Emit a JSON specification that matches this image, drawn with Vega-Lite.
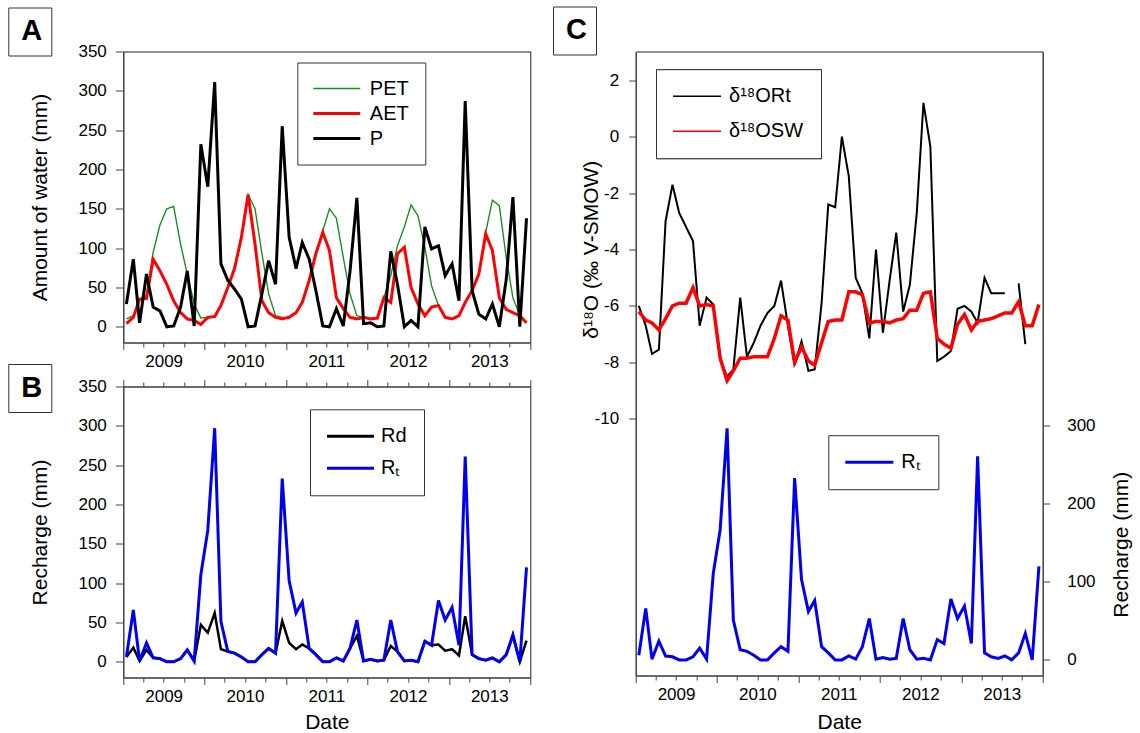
{
  "$schema": "https://vega.github.io/schema/vega-lite/v6.json",
  "autosize": {"type": "none"},
  "padding": {"left": 123.3, "top": 51.5, "right": 1016.7, "bottom": 681.5},
  "background": "white",
  "config": {
    "font": "Liberation Sans",
    "view": {"stroke": "#222", "strokeWidth": 1},
    "axis": {"grid": false, "labelFont": "Liberation Sans", "labelFontSize": 17, "labelColor": "#000", "titleFont": "Liberation Sans", "titleFontSize": 21, "titleFontWeight": "normal", "titleColor": "#000", "domainColor": "#444", "tickColor": "#444", "domainWidth": 1, "tickWidth": 1},
    "legend": {"labelFont": "Liberation Sans", "labelColor": "#000"}
  },
  "datasets": {
    "main": [
      {"date": "2009-01-15", "PET": 10, "AET": 4, "P": 29, "Rd": 6, "Rt": 6, "O_Rt": -6.0, "O_SW": -6.2},
      {"date": "2009-02-15", "PET": 14, "AET": 12, "P": 86, "Rd": 18, "Rt": 66, "O_Rt": -6.7, "O_SW": -6.5},
      {"date": "2009-03-15", "PET": 35, "AET": 35, "P": 5, "Rd": 1, "Rt": 1, "O_Rt": -7.7, "O_SW": -6.6},
      {"date": "2009-04-15", "PET": 40, "AET": 36, "P": 67, "Rd": 15, "Rt": 24, "O_Rt": -7.55, "O_SW": -6.85},
      {"date": "2009-05-15", "PET": 95, "AET": 86, "P": 25, "Rd": 5, "Rt": 5, "O_Rt": -3.0, "O_SW": -6.45},
      {"date": "2009-06-15", "PET": 130, "AET": 71, "P": 20, "Rd": 4, "Rt": 4, "O_Rt": -1.7, "O_SW": -6.0},
      {"date": "2009-07-15", "PET": 150, "AET": 54, "P": 0, "Rd": 0, "Rt": 0, "O_Rt": -2.7, "O_SW": -5.9},
      {"date": "2009-08-15", "PET": 153, "AET": 33, "P": 1, "Rd": 0, "Rt": 0, "O_Rt": -3.2, "O_SW": -5.9},
      {"date": "2009-09-15", "PET": 105, "AET": 18, "P": 25, "Rd": 4, "Rt": 4, "O_Rt": -3.7, "O_SW": -5.35},
      {"date": "2009-10-15", "PET": 67, "AET": 10, "P": 71, "Rd": 15, "Rt": 15, "O_Rt": -6.7, "O_SW": -6.0},
      {"date": "2009-11-15", "PET": 29, "AET": 8, "P": 1, "Rd": 1, "Rt": 1, "O_Rt": -5.7, "O_SW": -5.95},
      {"date": "2009-12-15", "PET": 11, "AET": 3, "P": 232, "Rd": 47, "Rt": 111, "O_Rt": -5.95, "O_SW": -6.0},
      {"date": "2010-01-15", "PET": 12, "AET": 12, "P": 178, "Rd": 37, "Rt": 167, "O_Rt": -7.9, "O_SW": -7.85},
      {"date": "2010-02-15", "PET": 13, "AET": 13, "P": 311, "Rd": 62, "Rt": 297, "O_Rt": -8.5, "O_SW": -8.65},
      {"date": "2010-03-15", "PET": 27, "AET": 27, "P": 80, "Rd": 16, "Rt": 51, "O_Rt": -8.25, "O_SW": -8.3},
      {"date": "2010-04-15", "PET": 50, "AET": 50, "P": 59, "Rd": 13, "Rt": 13, "O_Rt": -5.7, "O_SW": -7.85},
      {"date": "2010-05-15", "PET": 74, "AET": 74, "P": 48, "Rd": 11, "Rt": 11, "O_Rt": -7.8, "O_SW": -7.85},
      {"date": "2010-06-15", "PET": 114, "AET": 114, "P": 35, "Rd": 6, "Rt": 6, "O_Rt": -7.3, "O_SW": -7.8},
      {"date": "2010-07-15", "PET": 168, "AET": 168, "P": 0, "Rd": 0, "Rt": 0, "O_Rt": -6.7, "O_SW": -7.8},
      {"date": "2010-08-15", "PET": 150, "AET": 105, "P": 1, "Rd": 0, "Rt": 0, "O_Rt": -6.25, "O_SW": -7.8},
      {"date": "2010-09-15", "PET": 93, "AET": 33, "P": 42, "Rd": 9, "Rt": 9, "O_Rt": -6.0, "O_SW": -7.15},
      {"date": "2010-10-15", "PET": 42, "AET": 18, "P": 84, "Rd": 17, "Rt": 17, "O_Rt": -5.1, "O_SW": -6.35},
      {"date": "2010-11-15", "PET": 14, "AET": 12, "P": 54, "Rd": 11, "Rt": 11, "O_Rt": -6.7, "O_SW": -6.5},
      {"date": "2010-12-15", "PET": 12, "AET": 10, "P": 255, "Rd": 52, "Rt": 233, "O_Rt": -8.1, "O_SW": -8.0},
      {"date": "2011-01-15", "PET": 12, "AET": 12, "P": 114, "Rd": 24, "Rt": 103, "O_Rt": -7.25, "O_SW": -7.45},
      {"date": "2011-02-15", "PET": 18, "AET": 18, "P": 74, "Rd": 16, "Rt": 62, "O_Rt": -8.3, "O_SW": -7.95},
      {"date": "2011-03-15", "PET": 31, "AET": 31, "P": 107, "Rd": 22, "Rt": 76, "O_Rt": -8.25, "O_SW": -8.1},
      {"date": "2011-04-15", "PET": 59, "AET": 59, "P": 86, "Rd": 17, "Rt": 17, "O_Rt": -5.9, "O_SW": -7.3},
      {"date": "2011-05-15", "PET": 93, "AET": 93, "P": 46, "Rd": 9, "Rt": 9, "O_Rt": -2.4, "O_SW": -6.55},
      {"date": "2011-06-15", "PET": 122, "AET": 120, "P": 1, "Rd": 0, "Rt": 0, "O_Rt": -2.5, "O_SW": -6.5},
      {"date": "2011-07-15", "PET": 150, "AET": 97, "P": 0, "Rd": 0, "Rt": 0, "O_Rt": 0.0, "O_SW": -6.5},
      {"date": "2011-08-15", "PET": 138, "AET": 37, "P": 23, "Rd": 5, "Rt": 5, "O_Rt": -1.4, "O_SW": -5.5},
      {"date": "2011-09-15", "PET": 88, "AET": 23, "P": 1, "Rd": 1, "Rt": 1, "O_Rt": -5.0, "O_SW": -5.5},
      {"date": "2011-10-15", "PET": 42, "AET": 12, "P": 70, "Rd": 17, "Rt": 17, "O_Rt": -5.55, "O_SW": -5.6},
      {"date": "2011-11-15", "PET": 14, "AET": 10, "P": 164, "Rd": 33, "Rt": 53, "O_Rt": -7.15, "O_SW": -6.6},
      {"date": "2011-12-15", "PET": 12, "AET": 12, "P": 4, "Rd": 1, "Rt": 1, "O_Rt": -4.0, "O_SW": -6.55},
      {"date": "2012-01-15", "PET": 10, "AET": 10, "P": 5, "Rd": 3, "Rt": 3, "O_Rt": -6.95, "O_SW": -6.55},
      {"date": "2012-02-15", "PET": 11, "AET": 11, "P": 0, "Rd": 1, "Rt": 1, "O_Rt": -5.05, "O_SW": -6.6},
      {"date": "2012-03-15", "PET": 37, "AET": 37, "P": 1, "Rd": 2, "Rt": 2, "O_Rt": -3.4, "O_SW": -6.5},
      {"date": "2012-04-15", "PET": 65, "AET": 31, "P": 96, "Rd": 20, "Rt": 53, "O_Rt": -6.2, "O_SW": -6.45},
      {"date": "2012-05-15", "PET": 103, "AET": 93, "P": 54, "Rd": 13, "Rt": 13, "O_Rt": -5.25, "O_SW": -6.15},
      {"date": "2012-06-15", "PET": 127, "AET": 101, "P": 0, "Rd": 1, "Rt": 1, "O_Rt": -2.7, "O_SW": -6.15},
      {"date": "2012-07-15", "PET": 155, "AET": 50, "P": 8, "Rd": 2, "Rt": 2, "O_Rt": 1.2, "O_SW": -5.55},
      {"date": "2012-08-15", "PET": 141, "AET": 29, "P": 0, "Rd": 0, "Rt": 0, "O_Rt": -0.35, "O_SW": -5.5},
      {"date": "2012-09-15", "PET": 101, "AET": 14, "P": 127, "Rd": 26, "Rt": 26, "O_Rt": -7.95, "O_SW": -7.15},
      {"date": "2012-10-15", "PET": 52, "AET": 25, "P": 99, "Rd": 21, "Rt": 21, "O_Rt": -7.8, "O_SW": -7.35},
      {"date": "2012-11-15", "PET": 27, "AET": 27, "P": 103, "Rd": 22, "Rt": 78, "O_Rt": -7.6, "O_SW": -7.5},
      {"date": "2012-12-15", "PET": 12, "AET": 12, "P": 65, "Rd": 14, "Rt": 53, "O_Rt": -6.1, "O_SW": -6.65},
      {"date": "2013-01-15", "PET": 10, "AET": 10, "P": 80, "Rd": 16, "Rt": 69, "O_Rt": -6.0, "O_SW": -6.3},
      {"date": "2013-02-15", "PET": 14, "AET": 14, "P": 33, "Rd": 8, "Rt": 21, "O_Rt": -6.2, "O_SW": -6.85},
      {"date": "2013-03-15", "PET": 31, "AET": 31, "P": 287, "Rd": 58, "Rt": 261, "O_Rt": -6.6, "O_SW": -6.55},
      {"date": "2013-04-15", "PET": 46, "AET": 46, "P": 46, "Rd": 9, "Rt": 9, "O_Rt": -5.0, "O_SW": -6.5},
      {"date": "2013-05-15", "PET": 67, "AET": 67, "P": 16, "Rd": 4, "Rt": 4, "O_Rt": -5.55, "O_SW": -6.45},
      {"date": "2013-06-15", "PET": 120, "AET": 118, "P": 10, "Rd": 2, "Rt": 2, "O_Rt": -5.55, "O_SW": -6.35},
      {"date": "2013-07-15", "PET": 161, "AET": 97, "P": 29, "Rd": 5, "Rt": 5, "O_Rt": -5.55, "O_SW": -6.25},
      {"date": "2013-08-15", "PET": 154, "AET": 37, "P": 0, "Rd": 0, "Rt": 0, "O_Rt": null, "O_SW": -6.25},
      {"date": "2013-09-15", "PET": 88, "AET": 22, "P": 60, "Rd": 9, "Rt": 9, "O_Rt": -5.2, "O_SW": -5.85},
      {"date": "2013-10-15", "PET": 37, "AET": 18, "P": 165, "Rd": 34, "Rt": 34, "O_Rt": -7.35, "O_SW": -6.7},
      {"date": "2013-11-15", "PET": 14, "AET": 14, "P": 0, "Rd": 0, "Rt": 0, "O_Rt": null, "O_SW": -6.7},
      {"date": "2013-12-15", "PET": 5, "AET": 5, "P": 138, "Rd": 27, "Rt": 120, "O_Rt": null, "O_SW": -5.95}
    ]
  },
  "spacing": 18.4,
  "resolve": {"scale": {"color": "independent", "strokeWidth": "independent", "strokeDash": "independent"}},
  "hconcat": [
    {
      "spacing": 44,
      "bounds": "flush",
      "resolve": {"scale": {"color": "independent", "strokeWidth": "independent", "strokeDash": "independent"}},
      "vconcat": [
        {
          "width": 407,
          "height": 291,
          "data": {"name": "main"},
          "transform": [{"fold": ["PET", "AET", "P"], "as": ["series", "value"]}],
          "mark": {"type": "line", "invalid": "break-paths-filter-domains"},
          "encoding": {
            "x": {"field": "date", "type": "temporal",
              "scale": {"type": "utc", "domain": [{"year": 2009, "month": 1, "date": 1, "utc": true}, {"year": 2014, "month": 1, "date": 1, "utc": true}]},
              "axis": {"title": null, "labelOverlap": false, "labelFlush": false, "labelPadding": 6,
                "labelExpr": "utcmonth(datum.value) == 6 ? utcFormat(datum.value, '%Y') : ''",
                "tickSize": {"condition": {"test": "utcmonth(datum.value) == 0", "value": 7}, "value": 4.5},
                "values": [{"year": 2009, "month": 1, "date": 1, "utc": true}, {"year": 2009, "month": 4, "date": 1, "utc": true}, {"year": 2009, "month": 7, "date": 1, "utc": true}, {"year": 2009, "month": 10, "date": 1, "utc": true},
                  {"year": 2010, "month": 1, "date": 1, "utc": true}, {"year": 2010, "month": 4, "date": 1, "utc": true}, {"year": 2010, "month": 7, "date": 1, "utc": true}, {"year": 2010, "month": 10, "date": 1, "utc": true},
                  {"year": 2011, "month": 1, "date": 1, "utc": true}, {"year": 2011, "month": 4, "date": 1, "utc": true}, {"year": 2011, "month": 7, "date": 1, "utc": true}, {"year": 2011, "month": 10, "date": 1, "utc": true},
                  {"year": 2012, "month": 1, "date": 1, "utc": true}, {"year": 2012, "month": 4, "date": 1, "utc": true}, {"year": 2012, "month": 7, "date": 1, "utc": true}, {"year": 2012, "month": 10, "date": 1, "utc": true},
                  {"year": 2013, "month": 1, "date": 1, "utc": true}, {"year": 2013, "month": 4, "date": 1, "utc": true}, {"year": 2013, "month": 7, "date": 1, "utc": true}, {"year": 2013, "month": 10, "date": 1, "utc": true},
                  {"year": 2014, "month": 1, "date": 1, "utc": true}]}},
            "y": {"field": "value", "type": "quantitative",
              "scale": {"domain": [-20, 350], "nice": false, "zero": false},
              "axis": {"values": [0, 50, 100, 150, 200, 250, 300, 350], "title": "Amount of water (mm)", "tickSize": 8, "labelPadding": 9, "titleX": -83, "titleBaseline": "middle"}},
            "color": {"field": "series", "type": "nominal",
              "scale": {"domain": ["PET", "AET", "P"], "range": ["#1e8c1e", "#ff0000", "#000000"]},
              "legend": {"orient": "none", "legendX": 174, "legendY": 11, "title": null, "strokeColor": "#333", "fillColor": "#fff", "padding": 16, "symbolType": "M-2,0H7.4", "symbolSize": 100, "labelFontSize": 20, "rowPadding": 5, "labelOffset": 36.5}},
            "strokeWidth": {"field": "series", "type": "nominal",
              "scale": {"type": "ordinal", "domain": ["PET", "AET", "P"], "range": [1.4, 3, 3]},
              "legend": {"orient": "none", "legendX": 174, "legendY": 11, "title": null, "strokeColor": "#333", "fillColor": "#fff", "padding": 16, "symbolType": "M-2,0H7.4", "symbolSize": 100, "labelFontSize": 20, "rowPadding": 5, "labelOffset": 36.5}},
            "strokeDash": {"datum": "A", "type": "nominal",
              "scale": {"domain": ["A"], "range": [[1, 0]]},
              "legend": {"orient": "none", "legendX": -115, "legendY": -44, "title": null, "strokeColor": "#333", "fillColor": "#fff", "padding": 9, "symbolType": "circle", "symbolSize": 36, "symbolOpacity": 0, "symbolStrokeWidth": 0, "labelFontSize": 29, "labelFontWeight": "bold", "labelOffset": -25}}
          }
        },
        {
          "width": 407,
          "height": 291,
          "data": {"name": "main"},
          "layer": [
            {
              "transform": [{"fold": ["Rd"], "as": ["series", "value"]}],
              "mark": {"type": "line", "strokeWidth": 2.5},
              "encoding": {
                "x": {"field": "date", "type": "temporal",
                  "scale": {"type": "utc", "domain": [{"year": 2009, "month": 1, "date": 1, "utc": true}, {"year": 2014, "month": 1, "date": 1, "utc": true}]},
                  "axis": {"orient": "top", "title": null, "labels": false,
                    "tickSize": {"condition": {"test": "utcmonth(datum.value) == 0", "value": 7}, "value": 4.5},
                    "values": [{"year": 2009, "month": 1, "date": 1, "utc": true}, {"year": 2009, "month": 4, "date": 1, "utc": true}, {"year": 2009, "month": 7, "date": 1, "utc": true}, {"year": 2009, "month": 10, "date": 1, "utc": true},
                      {"year": 2010, "month": 1, "date": 1, "utc": true}, {"year": 2010, "month": 4, "date": 1, "utc": true}, {"year": 2010, "month": 7, "date": 1, "utc": true}, {"year": 2010, "month": 10, "date": 1, "utc": true},
                      {"year": 2011, "month": 1, "date": 1, "utc": true}, {"year": 2011, "month": 4, "date": 1, "utc": true}, {"year": 2011, "month": 7, "date": 1, "utc": true}, {"year": 2011, "month": 10, "date": 1, "utc": true},
                      {"year": 2012, "month": 1, "date": 1, "utc": true}, {"year": 2012, "month": 4, "date": 1, "utc": true}, {"year": 2012, "month": 7, "date": 1, "utc": true}, {"year": 2012, "month": 10, "date": 1, "utc": true},
                      {"year": 2013, "month": 1, "date": 1, "utc": true}, {"year": 2013, "month": 4, "date": 1, "utc": true}, {"year": 2013, "month": 7, "date": 1, "utc": true}, {"year": 2013, "month": 10, "date": 1, "utc": true},
                      {"year": 2014, "month": 1, "date": 1, "utc": true}]}},
                "y": {"field": "value", "type": "quantitative",
                  "scale": {"domain": [-20, 350], "nice": false, "zero": false},
                  "axis": {"values": [0, 50, 100, 150, 200, 250, 300, 350], "title": "Recharge (mm)", "tickSize": 8, "labelPadding": 9, "titleX": -83, "titleBaseline": "middle"}},
                "color": {"field": "series", "type": "nominal",
                  "scale": {"domain": ["Rd", "Rt"], "range": ["#000000", "#0000ee"]},
                  "legend": {"orient": "none", "legendX": 186.7, "legendY": 22.8, "title": null, "strokeColor": "#333", "fillColor": "#fff", "padding": 17, "symbolType": "M-2,0H7.4", "symbolSize": 100, "symbolStrokeWidth": 3, "labelFontSize": 20, "rowPadding": 12, "labelOffset": 34, "labelExpr": "datum.label == 'Rt' ? 'Rₜ' : 'Rd'"}},
                "strokeDash": {"datum": "B", "type": "nominal",
                  "scale": {"domain": ["B"], "range": [[1, 0]]},
                  "legend": {"orient": "none", "legendX": -115, "legendY": -22.5, "title": null, "strokeColor": "#333", "fillColor": "#fff", "padding": 9, "symbolType": "circle", "symbolSize": 36, "symbolOpacity": 0, "symbolStrokeWidth": 0, "labelFontSize": 29, "labelFontWeight": "bold", "labelOffset": -25}}
              }
            },
            {
              "transform": [{"fold": ["Rt"], "as": ["series", "value"]}],
              "mark": {"type": "line", "strokeWidth": 3},
              "encoding": {
                "x": {"field": "date", "type": "temporal",
                  "scale": {"type": "utc", "domain": [{"year": 2009, "month": 1, "date": 1, "utc": true}, {"year": 2014, "month": 1, "date": 1, "utc": true}]},
                  "axis": {"title": "Date", "titlePadding": 5, "labelOverlap": false, "labelFlush": false, "labelPadding": 6,
                    "labelExpr": "utcmonth(datum.value) == 6 ? utcFormat(datum.value, '%Y') : ''",
                    "tickSize": {"condition": {"test": "utcmonth(datum.value) == 0", "value": 7}, "value": 4.5},
                    "values": [{"year": 2009, "month": 1, "date": 1, "utc": true}, {"year": 2009, "month": 4, "date": 1, "utc": true}, {"year": 2009, "month": 7, "date": 1, "utc": true}, {"year": 2009, "month": 10, "date": 1, "utc": true},
                      {"year": 2010, "month": 1, "date": 1, "utc": true}, {"year": 2010, "month": 4, "date": 1, "utc": true}, {"year": 2010, "month": 7, "date": 1, "utc": true}, {"year": 2010, "month": 10, "date": 1, "utc": true},
                      {"year": 2011, "month": 1, "date": 1, "utc": true}, {"year": 2011, "month": 4, "date": 1, "utc": true}, {"year": 2011, "month": 7, "date": 1, "utc": true}, {"year": 2011, "month": 10, "date": 1, "utc": true},
                      {"year": 2012, "month": 1, "date": 1, "utc": true}, {"year": 2012, "month": 4, "date": 1, "utc": true}, {"year": 2012, "month": 7, "date": 1, "utc": true}, {"year": 2012, "month": 10, "date": 1, "utc": true},
                      {"year": 2013, "month": 1, "date": 1, "utc": true}, {"year": 2013, "month": 4, "date": 1, "utc": true}, {"year": 2013, "month": 7, "date": 1, "utc": true}, {"year": 2013, "month": 10, "date": 1, "utc": true},
                      {"year": 2014, "month": 1, "date": 1, "utc": true}]}},
                "y": {"field": "value", "type": "quantitative",
                  "scale": {"domain": [-20, 350], "nice": false, "zero": false},
                  "axis": {"values": [0, 50, 100, 150, 200, 250, 300, 350], "title": "Recharge (mm)", "tickSize": 8, "labelPadding": 9, "titleX": -83, "titleBaseline": "middle"}},
                "color": {"field": "series", "type": "nominal",
                  "scale": {"domain": ["Rd", "Rt"], "range": ["#000000", "#0000ee"]},
                  "legend": {"orient": "none", "legendX": 186.7, "legendY": 22.8, "title": null, "strokeColor": "#333", "fillColor": "#fff", "padding": 17, "symbolType": "M-2,0H7.4", "symbolSize": 100, "symbolStrokeWidth": 3, "labelFontSize": 20, "rowPadding": 12, "labelOffset": 34, "labelExpr": "datum.label == 'Rt' ? 'Rₜ' : 'Rd'"}}
              }
            }
          ],
          "resolve": {"axis": {"x": "independent"}}
        }
      ]
    },
    {
      "width": 407,
      "height": 624,
      "data": {"name": "main"},
      "layer": [
        {
          "transform": [{"fold": ["O_Rt", "O_SW"], "as": ["series", "value"]}],
          "mark": {"type": "line", "invalid": "break-paths-filter-domains"},
          "encoding": {
            "x": {"field": "date", "type": "temporal",
              "scale": {"type": "utc", "domain": [{"year": 2009, "month": 1, "date": 1, "utc": true}, {"year": 2014, "month": 1, "date": 1, "utc": true}]},
              "axis": {"title": "Date", "titlePadding": 7, "labelOverlap": false, "labelFlush": false, "labelPadding": 6,
                "labelExpr": "utcmonth(datum.value) == 6 ? utcFormat(datum.value, '%Y') : ''",
                "tickSize": {"condition": {"test": "utcmonth(datum.value) == 0", "value": 7}, "value": 4.5},
                "values": [{"year": 2009, "month": 1, "date": 1, "utc": true}, {"year": 2009, "month": 4, "date": 1, "utc": true}, {"year": 2009, "month": 7, "date": 1, "utc": true}, {"year": 2009, "month": 10, "date": 1, "utc": true},
                  {"year": 2010, "month": 1, "date": 1, "utc": true}, {"year": 2010, "month": 4, "date": 1, "utc": true}, {"year": 2010, "month": 7, "date": 1, "utc": true}, {"year": 2010, "month": 10, "date": 1, "utc": true},
                  {"year": 2011, "month": 1, "date": 1, "utc": true}, {"year": 2011, "month": 4, "date": 1, "utc": true}, {"year": 2011, "month": 7, "date": 1, "utc": true}, {"year": 2011, "month": 10, "date": 1, "utc": true},
                  {"year": 2012, "month": 1, "date": 1, "utc": true}, {"year": 2012, "month": 4, "date": 1, "utc": true}, {"year": 2012, "month": 7, "date": 1, "utc": true}, {"year": 2012, "month": 10, "date": 1, "utc": true},
                  {"year": 2013, "month": 1, "date": 1, "utc": true}, {"year": 2013, "month": 4, "date": 1, "utc": true}, {"year": 2013, "month": 7, "date": 1, "utc": true}, {"year": 2013, "month": 10, "date": 1, "utc": true},
                  {"year": 2014, "month": 1, "date": 1, "utc": true}]}},
            "y": {"field": "value", "type": "quantitative",
              "scale": {"domain": [-19.1, 3.02], "nice": false, "zero": false},
              "axis": {"values": [-10, -8, -6, -4, -2, 0, 2], "labelExpr": "'' + datum.value", "title": "δ¹⁸O (‰ V-SMOW)", "titleX": -44.7, "titleY": 197.7, "titleBaseline": "middle", "tickSize": 7, "labelPadding": 10}},
            "color": {"field": "series", "type": "nominal",
              "scale": {"domain": ["O_Rt", "O_SW"], "range": ["#000000", "#ff0000"]},
              "legend": {"orient": "none", "legendX": 20.3, "legendY": 17.7, "title": null, "strokeColor": "#333", "fillColor": "#fff", "padding": 17, "symbolType": "M-2,0H7.6", "symbolSize": 100, "labelFontSize": 20, "rowPadding": 15, "labelOffset": 36, "labelExpr": "datum.label == 'O_Rt' ? 'δ¹⁸ORt' : 'δ¹⁸OSW'"}},
            "strokeWidth": {"field": "series", "type": "nominal",
              "scale": {"type": "ordinal", "domain": ["O_Rt", "O_SW"], "range": [2, 3.5]},
              "legend": {"orient": "none", "legendX": 20.3, "legendY": 17.7, "title": null, "strokeColor": "#333", "fillColor": "#fff", "padding": 17, "symbolType": "M-2,0H7.6", "symbolSize": 100, "labelFontSize": 20, "rowPadding": 15, "labelOffset": 36, "labelExpr": "datum.label == 'O_Rt' ? 'δ¹⁸ORt' : 'δ¹⁸OSW'"}},
            "strokeDash": {"datum": "C", "type": "nominal",
              "scale": {"domain": ["C"], "range": [[1, 0]]},
              "legend": {"orient": "none", "legendX": -82.7, "legendY": -45, "title": null, "strokeColor": "#333", "fillColor": "#fff", "padding": 9, "symbolType": "circle", "symbolSize": 36, "symbolOpacity": 0, "symbolStrokeWidth": 0, "labelFontSize": 29, "labelFontWeight": "bold", "labelOffset": -25}}
          }
        },
        {
          "transform": [{"fold": ["Rt"], "as": ["series", "value"]}],
          "mark": {"type": "line", "strokeWidth": 3},
          "encoding": {
            "x": {"field": "date", "type": "temporal",
              "scale": {"type": "utc", "domain": [{"year": 2009, "month": 1, "date": 1, "utc": true}, {"year": 2014, "month": 1, "date": 1, "utc": true}]},
              "axis": {"title": "Date", "titlePadding": 7, "labelOverlap": false, "labelFlush": false, "labelPadding": 6,
                "labelExpr": "utcmonth(datum.value) == 6 ? utcFormat(datum.value, '%Y') : ''",
                "tickSize": {"condition": {"test": "utcmonth(datum.value) == 0", "value": 7}, "value": 4.5},
                "values": [{"year": 2009, "month": 1, "date": 1, "utc": true}, {"year": 2009, "month": 4, "date": 1, "utc": true}, {"year": 2009, "month": 7, "date": 1, "utc": true}, {"year": 2009, "month": 10, "date": 1, "utc": true},
                  {"year": 2010, "month": 1, "date": 1, "utc": true}, {"year": 2010, "month": 4, "date": 1, "utc": true}, {"year": 2010, "month": 7, "date": 1, "utc": true}, {"year": 2010, "month": 10, "date": 1, "utc": true},
                  {"year": 2011, "month": 1, "date": 1, "utc": true}, {"year": 2011, "month": 4, "date": 1, "utc": true}, {"year": 2011, "month": 7, "date": 1, "utc": true}, {"year": 2011, "month": 10, "date": 1, "utc": true},
                  {"year": 2012, "month": 1, "date": 1, "utc": true}, {"year": 2012, "month": 4, "date": 1, "utc": true}, {"year": 2012, "month": 7, "date": 1, "utc": true}, {"year": 2012, "month": 10, "date": 1, "utc": true},
                  {"year": 2013, "month": 1, "date": 1, "utc": true}, {"year": 2013, "month": 4, "date": 1, "utc": true}, {"year": 2013, "month": 7, "date": 1, "utc": true}, {"year": 2013, "month": 10, "date": 1, "utc": true},
                  {"year": 2014, "month": 1, "date": 1, "utc": true}]}},
            "y": {"field": "value", "type": "quantitative",
              "scale": {"domain": [-20, 780], "nice": false, "zero": false},
              "axis": {"orient": "right", "values": [0, 100, 200, 300], "title": "Recharge (mm)", "titleX": 78.7, "titleY": 492.7, "titleAngle": 270, "titleBaseline": "middle", "tickSize": 7, "labelPadding": 17}},
            "color": {"field": "series", "type": "nominal",
              "scale": {"domain": ["Rt"], "range": ["#0000ee"]},
              "legend": {"orient": "none", "legendX": 192.6, "legendY": 383.7, "title": null, "strokeColor": "#333", "fillColor": "#fff", "padding": 17, "symbolType": "M-2,0H7.6", "symbolSize": 100, "symbolStrokeWidth": 3, "labelFontSize": 20, "labelOffset": 36, "labelExpr": "'Rₜ'"}}
          }
        }
      ],
      "resolve": {"scale": {"y": "independent", "color": "independent"}}
    }
  ]
}
